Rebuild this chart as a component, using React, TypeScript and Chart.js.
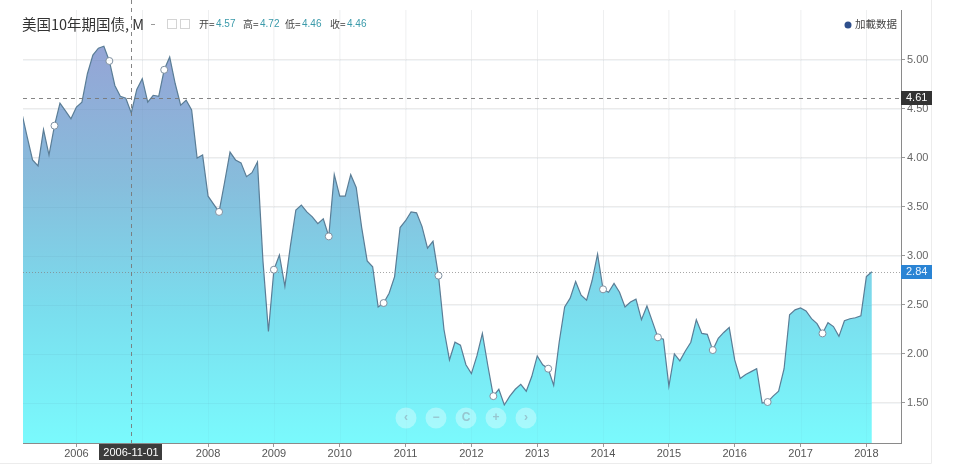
import React, { useEffect, useRef } from 'react';
import { Chart, registerables } from 'chart.js';

Chart.register(...registerables);

// ---- data ----
const START_YEAR = 2005;
const START_MONTH = 3; // first monthly close: 2005-03
const yields = [
  // 2005 (Mar-Dec)
  4.47, 4.22, 3.98, 3.92, 4.29, 4.03, 4.33, 4.56, 4.48, 4.40,
  // 2006
  4.52, 4.57, 4.86, 5.05, 5.12, 5.14, 4.99, 4.74, 4.63, 4.61, 4.46, 4.70,
  // 2007
  4.81, 4.57, 4.64, 4.63, 4.90, 5.03, 4.76, 4.54, 4.59, 4.49, 4.00, 4.03,
  // 2008
  3.61, 3.53, 3.45, 3.75, 4.06, 3.98, 3.95, 3.81, 3.85, 3.96, 2.95, 2.23,
  // 2009
  2.86, 3.01, 2.69, 3.10, 3.47, 3.52, 3.45, 3.40, 3.33, 3.38, 3.20, 3.83,
  // 2010
  3.61, 3.61, 3.83, 3.70, 3.29, 2.95, 2.89, 2.48, 2.52, 2.62, 2.79, 3.29,
  // 2011
  3.36, 3.45, 3.44, 3.30, 3.08, 3.15, 2.80, 2.25, 1.94, 2.12, 2.09, 1.89,
  // 2012
  1.80, 1.98, 2.21, 1.88, 1.57, 1.64, 1.48, 1.57, 1.64, 1.69, 1.62, 1.77,
  // 2013
  1.98, 1.89, 1.85, 1.68, 2.12, 2.48, 2.57, 2.74, 2.60, 2.55, 2.75, 3.02,
  // 2014
  2.66, 2.63, 2.72, 2.63, 2.48, 2.53, 2.56, 2.35, 2.49, 2.33, 2.17, 2.15,
  // 2015
  1.67, 2.00, 1.93, 2.03, 2.12, 2.35, 2.21, 2.20, 2.04, 2.16, 2.22, 2.27,
  // 2016
  1.94, 1.75, 1.79, 1.82, 1.85, 1.50, 1.51, 1.57, 1.62, 1.85, 2.40, 2.45,
  // 2017
  2.47, 2.44, 2.36, 2.31, 2.21, 2.32, 2.28, 2.18, 2.34, 2.36, 2.37, 2.39,
  // 2018 (Jan-Feb)
  2.79, 2.84,
];
const markerMonths = [
  '2005-09', '2006-07', '2007-05', '2008-03', '2009-01', '2009-11', '2010-09',
  '2011-07', '2012-05', '2013-03', '2014-01', '2014-11', '2015-09', '2016-07', '2017-05',
];
const yearTicks = [2006, 2007, 2008, 2009, 2010, 2011, 2012, 2013, 2014, 2015, 2016, 2017, 2018];
const yTicks = [1.5, 2.0, 2.5, 3.0, 3.5, 4.0, 4.5, 5.0];
const crossDate = '2006-11-01';
const crossValue = 4.61;
const titleText = '美国10年期国债, M';
const ohlcLabels = ['开=', '高=', '低=', '收='];
const ohlcValues = [4.57, 4.72, 4.46, 4.46];
const legendText = '加載数据';
const navSymbols = ['‹', '−', 'C', '+', '›'];

// ---- helpers ----
const monthLabel = (i: number) => {
  const t = START_MONTH - 1 + i;
  const y = START_YEAR + Math.floor(t / 12);
  const m = (t % 12) + 1;
  return `${y}-${m < 10 ? '0' + m : m}`;
};
const monthX = (i: number) => START_YEAR + (START_MONTH - 1 + i) / 12;
const dateToX = (s: string) => {
  const [y, m] = s.split('-').map(Number);
  return y + (m - 1) / 12;
};

const FONT = '"Liberation Sans", Arial, sans-serif';
const CJK = '"Noto Sans CJK SC", "Liberation Sans", sans-serif';

const overlayPlugin = {
  id: 'overlay',
  afterDatasetsDraw(chart: any) {
    const { ctx, chartArea: a, scales } = chart;
    const x = scales.x;
    const y = scales.y;
    ctx.save();
    // faint grid over the fill
    ctx.strokeStyle = 'rgba(70,110,140,0.07)';
    ctx.lineWidth = 1;
    yTicks.forEach((v) => {
      const py = Math.round(y.getPixelForValue(v)) + 0.5;
      ctx.beginPath();
      ctx.moveTo(a.left, py);
      ctx.lineTo(a.right, py);
      ctx.stroke();
    });
    ctx.strokeStyle = 'rgba(70,110,140,0.04)';
    yearTicks.forEach((v) => {
      const px = Math.round(x.getPixelForValue(v)) + 0.5;
      ctx.beginPath();
      ctx.moveTo(px, a.top);
      ctx.lineTo(px, a.bottom);
      ctx.stroke();
    });
    // last value dotted line
    const last = yields[yields.length - 1];
    const ly = Math.round(y.getPixelForValue(last)) + 0.5;
    ctx.strokeStyle = 'rgba(130,130,130,0.7)';
    ctx.setLineDash([1, 2]);
    ctx.beginPath();
    ctx.moveTo(a.left, ly);
    ctx.lineTo(a.right, ly);
    ctx.stroke();
    // crosshair
    ctx.strokeStyle = 'rgba(120,120,120,0.9)';
    ctx.setLineDash([4, 4]);
    const cy = Math.round(y.getPixelForValue(crossValue)) + 0.5;
    ctx.beginPath();
    ctx.moveTo(a.left, cy);
    ctx.lineTo(a.right, cy);
    ctx.stroke();
    const cx = Math.round(x.getPixelForValue(dateToX(crossDate))) + 0.5;
    ctx.beginPath();
    ctx.moveTo(cx, 0);
    ctx.lineTo(cx, a.bottom);
    ctx.stroke();
    ctx.restore();
  },
  afterDraw(chart: any) {
    const { ctx, chartArea: a, scales } = chart;
    const x = scales.x;
    const y = scales.y;
    ctx.save();
    // outer faint frame
    ctx.strokeStyle = '#ececec';
    ctx.lineWidth = 1;
    ctx.beginPath();
    ctx.moveTo(931.5, 0);
    ctx.lineTo(931.5, 463.5);
    ctx.lineTo(0, 463.5);
    ctx.stroke();

    // date box on x-axis
    const cx = x.getPixelForValue(dateToX(crossDate));
    ctx.fillStyle = '#3c3c3c';
    ctx.fillRect(Math.round(cx) - 32, a.bottom + 1, 63, 16);
    ctx.fillStyle = '#ffffff';
    ctx.font = `11px ${FONT}`;
    ctx.textAlign = 'center';
    ctx.textBaseline = 'middle';
    ctx.fillText(crossDate, Math.round(cx), a.bottom + 9.5);

    // crosshair value box
    ctx.textAlign = 'left';
    const cy = y.getPixelForValue(crossValue);
    ctx.fillStyle = '#333333';
    ctx.fillRect(a.right, Math.round(cy) - 7, 31, 14);
    ctx.fillStyle = '#ffffff';
    ctx.fillText(crossValue.toFixed(2), a.right + 5, Math.round(cy));

    // last value box
    const last = yields[yields.length - 1];
    const ly = y.getPixelForValue(last);
    ctx.fillStyle = '#2a84d4';
    ctx.fillRect(a.right, Math.round(ly) - 7, 31, 14);
    ctx.fillStyle = '#eaf4ff';
    ctx.fillText(last.toFixed(2), a.right + 5, Math.round(ly));

    // title
    ctx.textBaseline = 'middle';
    ctx.fillStyle = '#333333';
    ctx.font = `14.5px ${CJK}`;
    ctx.fillText(titleText, 22, 24);
    ctx.fillStyle = '#999';
    ctx.fillRect(151, 24, 4, 1);
    // two small icons
    ctx.strokeStyle = '#d4d4d4';
    ctx.strokeRect(167.5, 19.5, 9, 9);
    ctx.strokeRect(180.5, 19.5, 9, 9);
    // OHLC
    const labelX = [199, 243, 285, 330];
    ohlcLabels.forEach((l, i) => {
      ctx.font = `10px ${CJK}`;
      ctx.fillStyle = '#444444';
      ctx.fillText(l, labelX[i], 24);
      ctx.font = `10px ${FONT}`;
      ctx.fillStyle = '#3a9aaa';
      ctx.fillText(ohlcValues[i].toFixed(2), labelX[i] + 17, 24);
    });

    // legend
    ctx.fillStyle = '#2f4f8c';
    ctx.beginPath();
    ctx.arc(848, 25, 3.5, 0, Math.PI * 2);
    ctx.fill();
    ctx.fillStyle = '#444444';
    ctx.font = `10.5px ${CJK}`;
    ctx.fillText(legendText, 855, 24);

    // navigator buttons
    const bx = [406, 436, 466, 496, 526];
    navSymbols.forEach((s, i) => {
      ctx.fillStyle = 'rgba(255,255,255,0.34)';
      ctx.beginPath();
      ctx.arc(bx[i], 418, 10.5, 0, Math.PI * 2);
      ctx.fill();
      ctx.fillStyle = 'rgba(150,195,205,0.95)';
      ctx.font = `bold 12px ${FONT}`;
      ctx.textAlign = 'center';
      ctx.fillText(s, bx[i], 418);
    });
    ctx.restore();
  },
};

export default function App() {
  const ref = useRef<HTMLCanvasElement | null>(null);

  useEffect(() => {
    if (!ref.current) return;
    const points = yields.map((v, i) => ({ x: monthX(i), y: v }));
    const markerSet = new Set(markerMonths);
    const chart = new Chart(ref.current, {
      type: 'line',
      data: {
        datasets: [
          {
            data: points,
            borderColor: '#5a7d96',
            borderWidth: 1.2,
            tension: 0,
            fill: 'start',
            backgroundColor: (c: any) => {
              const { chart: ch } = c;
              const area = ch.chartArea;
              if (!area) return 'rgba(130,220,240,1)';
              const g = ch.ctx.createLinearGradient(0, area.top, 0, area.bottom);
              g.addColorStop(0, 'rgb(152,160,212)');
              g.addColorStop(0.12, 'rgb(147,167,214)');
              g.addColorStop(0.4, 'rgb(135,189,220)');
              g.addColorStop(0.7, 'rgb(122,222,238)');
              g.addColorStop(1, 'rgb(122,250,253)');
              return g;
            },
            pointRadius: (c: any) => (markerSet.has(monthLabel(c.dataIndex)) ? 3.5 : 0),
            pointBackgroundColor: '#ffffff',
            pointBorderColor: '#7f90a0',
            pointBorderWidth: 1,
          },
        ],
      },
      options: {
        animation: false,
        responsive: false,
        devicePixelRatio: 1,
        events: [],
        layout: { padding: { left: 23, right: 19, top: 10, bottom: 11 } },
        plugins: { legend: { display: false }, tooltip: { enabled: false }, title: { display: false } },
        scales: {
          x: {
            type: 'linear',
            min: 2005.1883,
            max: 2018.526,
            afterBuildTicks: (s: any) => {
              s.ticks = yearTicks.map((v) => ({ value: v }));
            },
            afterFit: (s: any) => {
              s.height = 20;
            },
            grid: { color: '#f5f5f5', tickLength: 4, tickColor: '#999999' },
            border: { color: '#8a8a8a' },
            ticks: {
              callback: (v: any) => String(v),
              color: '#555555',
              font: { size: 11, family: FONT },
              padding: 0,
              autoSkip: false,
              maxRotation: 0,
            },
          },
          y: {
            position: 'right',
            min: 1.0918,
            max: 5.5102,
            afterBuildTicks: (s: any) => {
              s.ticks = yTicks.map((v) => ({ value: v }));
            },
            afterFit: (s: any) => {
              s.width = 40;
            },
            grid: { color: '#ebebeb', tickLength: 4, tickColor: '#999999' },
            border: { color: '#8a8a8a' },
            ticks: {
              callback: (v: any) => Number(v).toFixed(2),
              color: '#666666',
              font: { size: 11, family: FONT },
              padding: 2,
            },
          },
        },
      },
      plugins: [overlayPlugin],
    } as any);
    return () => chart.destroy();
  }, []);

  return (
    <div style={{ position: 'fixed', left: 0, top: 0, width: 960, height: 474, background: '#fff' }}>
      <canvas ref={ref} width={960} height={474} style={{ display: 'block', width: 960, height: 474 }} />
    </div>
  );
}
